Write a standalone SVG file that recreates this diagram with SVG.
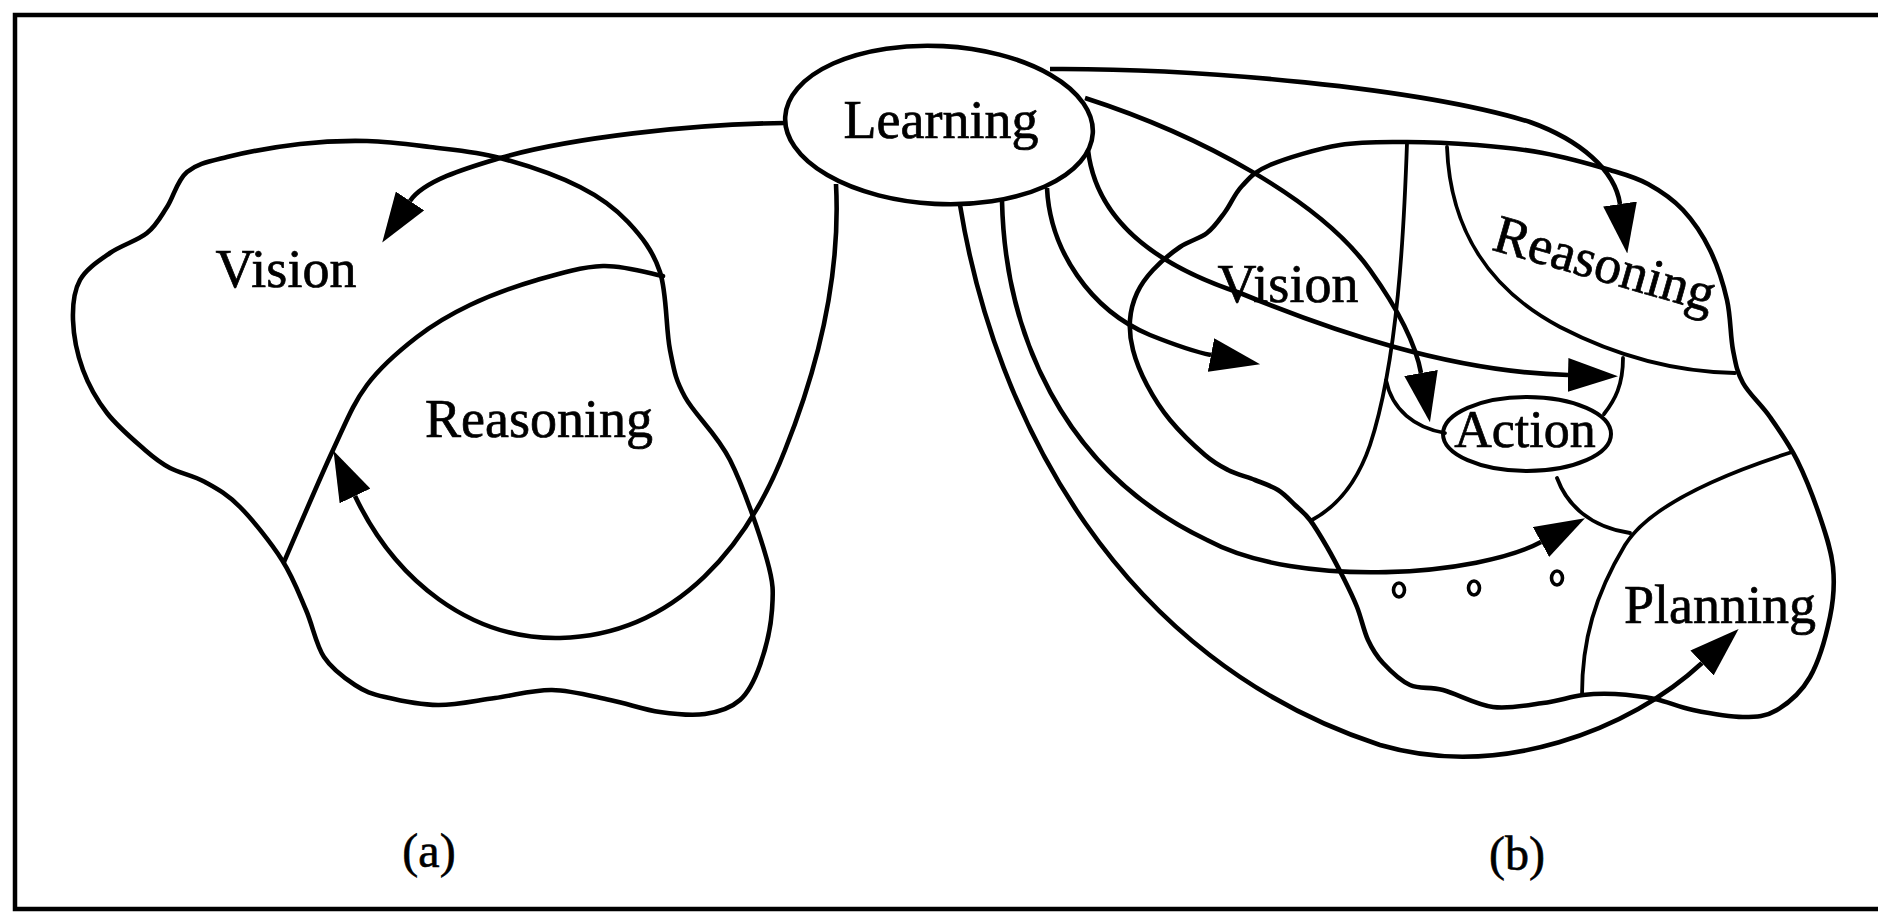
<svg xmlns="http://www.w3.org/2000/svg" width="1878" height="912" viewBox="0 0 1878 912">
<style>
.ln{fill:none;stroke:#000;stroke-width:4.6;stroke-linejoin:round;stroke-linecap:round}
.th{fill:none;stroke:#000;stroke-width:3.8;stroke-linejoin:round;stroke-linecap:round}
.arr{fill:none;stroke:#000;stroke-width:4.6;stroke-linecap:butt;marker-end:url(#ah)}
.tx{font-family:"Liberation Serif","Times New Roman",serif;font-size:54px;fill:#000;stroke:#000;stroke-width:0.7;text-anchor:middle}
.lb{font-family:"Liberation Serif","Times New Roman",serif;font-size:48px;fill:#000;stroke:#000;stroke-width:0.6;text-anchor:middle}
.dot{fill:none;stroke:#000;stroke-width:3.6}
</style>
<defs>
<marker id="ah" markerUnits="userSpaceOnUse" viewBox="0 0 50 34" markerWidth="50" markerHeight="34" refX="0" refY="17" orient="auto">
<path d="M0,0 L50,17 L0,34 Z" fill="#000"/>
</marker>
</defs>
<rect width="1878" height="912" fill="#fff"/>
<g id="frame"><rect x="15" y="15" width="1880" height="894" fill="none" stroke="#000" stroke-width="4.5"/></g>

<g id="vision-a">
<path class="ln" d="M187,172 C197,163.7 208.2,161.7 227,157 S276.7,146.7 300,144 S345.3,140.5 367,141 S407.8,144.2 430,147 S475,151.3 500,158 S558.7,176.3 580,187 S614.7,207.8 628,222 S653,250.7 660,272 S665.8,329.2 670,350 S675,378.7 685,397 S716.3,432.8 730,460 S760,535 767,560 S773.2,592.5 772,610 S765.3,650 760,665 S749.2,691.8 740,700 S718.3,712 705,714 S675.8,714.3 660,712 S628,703.7 610,700 S571.2,690.3 552,690 S514,695.5 495,698 S456.3,705.2 438,705 S398.8,700.3 385,697 S365.2,691.7 355,685 S332.2,669.5 324,657 S313,626.2 306,610 S293,577.2 282,560 S252.8,520 240,507 S216.7,488.5 205,482 S180,473.3 170,468 S155.5,459.2 145,450 S117.3,426.3 107,413 S88.7,385.5 83,370 S73.5,335 73,320 S73.8,291.2 80,280 S98.8,260.8 110,253 S137.5,240.7 147,233 S160.3,217.2 167,207 S177,180.3 187,172 Z"/>
<text class="tx" x="286" y="287">Vision</text>
</g>

<g id="reasoning-a">
<path class="ln" d="M663,276 C653,274.3 624,265.3 603,266 S559.2,273.5 537,280 S490,295.5 470,305 S434.2,323.7 417,337 S381,366.2 367,385 S346.8,420.5 333,450 S292.2,543.3 284,562"/>
<text class="tx" x="539" y="437">Reasoning</text>
</g>

<g id="learning">
<ellipse cx="939" cy="125" rx="154" ry="79" transform="rotate(3 939 125)" fill="#fff" stroke="#000" stroke-width="4.6"/>
<text class="tx" x="941" y="138">Learning</text>
</g>

<g id="region-b">
<path class="ln" d="M1270,165 C1286.3,158.2 1317.2,148.8 1340,145 S1384.2,142 1407,142 S1454.3,143.2 1477,145 S1520.8,148.8 1543,153 S1592.5,164.8 1610,170 S1635.8,177.3 1648,184 S1672.7,199 1683,210 S1702.7,235 1710,250 S1723.2,283.3 1727,300 S1730.3,336.2 1733,350 S1736.8,371.8 1743,383 S1761,404.2 1770,417 S1788.7,443.3 1797,460 S1814,499.2 1820,517 S1831.3,550.3 1833,567 S1833.8,598.7 1830,617 S1818.8,661.5 1810,677 S1788.2,703.3 1777,710 S1757,717 1743,717 S1707.7,713 1693,710 S1668,701.7 1655,699 S1627,694.7 1615,694 S1595,693.5 1583,695 S1558,701 1543,703 S1509.7,709.2 1493,707 S1456.8,693.7 1443,690 S1420,689.5 1410,685 S1390,670.5 1383,663 S1372.3,649.3 1368,640 S1361.2,617.5 1357,607 S1348,587 1343,577 S1332.5,556.5 1327,547 S1315.3,527 1310,520 S1300.3,510 1295,505 S1284.7,494.2 1278,490 S1263.3,483.3 1255,480 S1236.3,474.2 1228,470 S1214.7,463.3 1205,455 S1179.7,431.7 1170,420 S1153.2,396.7 1147,385 S1135.8,360.8 1133,350 S1129.3,329.5 1130,320 S1133.2,301.3 1137,293 S1145.8,277.7 1153,270 S1171,253.2 1180,247 S1199.5,238.8 1207,233 S1219.2,219.8 1225,212 S1234.5,193.8 1242,186 S1253.7,171.8 1270,165 Z"/>
</g>

<g id="vision-b">
<path class="th" d="M1407,143 C1404,230 1398,360 1370,445 C1358,480 1340,505 1312,520"/>
<text class="tx" x="1288" y="302">Vision</text>
</g>

<g id="reasoning-b">
<path class="th" d="M1447,147 C1450,230 1490,290 1560,327 C1620,358 1680,372 1735,373"/>
<text class="tx" x="1600" y="281" transform="rotate(16 1600 281)">Reasoning</text>
</g>

<g id="action">
<path class="th" d="M1386,380 C1392,410 1415,428 1445,433"/>
<path class="th" d="M1604,414 C1615,400 1623,385 1623,358"/>
<path class="th" d="M1557,478 C1567,505 1590,527 1630,533"/>
<ellipse cx="1527" cy="434" rx="84" ry="37" fill="none" stroke="#000" stroke-width="4"/>
<text class="tx" x="1525" y="447" style="font-size:52px">Action</text>
</g>

<g id="planning">
<path class="th" d="M1792,452 C1720,475 1650,505 1625,545 C1595,595 1582,640 1582,695"/>
<text class="tx" x="1720" y="623">Planning</text>
</g>

<g id="others">
<ellipse class="dot" cx="1399" cy="590" rx="5.5" ry="7"/>
<ellipse class="dot" cx="1474" cy="588" rx="5.5" ry="7"/>
<ellipse class="dot" cx="1557" cy="578" rx="5.5" ry="7"/>
</g>

<g id="connectors">
<path class="arr" d="M785,123 C690,124 570,138 500,158 C470,167 424,180 410,201"/>
<path class="arr" d="M836,184 C840,260 825,350 785,450 C750,540 680,635 560,638 C470,640 395,580 355,496"/>
<path class="arr" d="M1050,69 C1200,68 1420,88 1530,122 C1580,140 1615,170 1620,204"/>
<path class="arr" d="M1085,98 C1200,135 1320,200 1370,270 C1395,305 1415,340 1421,373"/>
<path class="arr" d="M1088,150 C1095,210 1140,260 1240,293 C1330,330 1450,372 1568,375"/>
<path class="arr" d="M1047,188 C1050,250 1090,310 1150,335 C1170,343 1190,351 1211,355"/>
<path class="arr" d="M1002,201 C1005,330 1060,470 1207,540 C1300,590 1480,575 1541,542"/>
<path class="arr" d="M960,205 C995,420 1120,660 1380,745 C1500,780 1630,730 1702,663"/>
</g>

<g id="labels">
<text class="lb" x="429" y="867">(a)</text>
<text class="lb" x="1517" y="870">(b)</text>
</g>
</svg>
